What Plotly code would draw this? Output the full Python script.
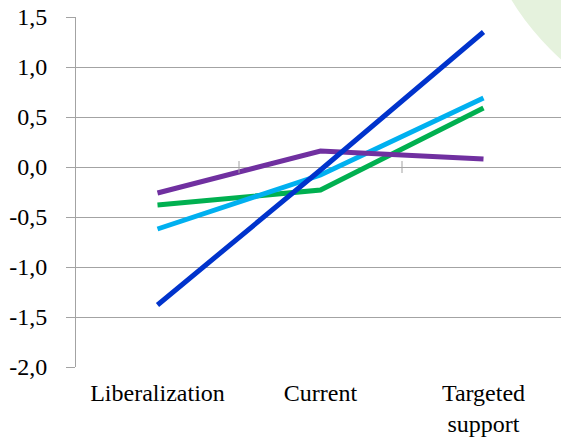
import plotly.graph_objects as go

# Scenario categories and the value of each series under each scenario
scenarios = ["Liberalization", "Current", "Targeted<br>support"]
series_blue = [-1.38, -0.03, 1.35]
series_lightblue = [-0.62, -0.08, 0.69]
series_green = [-0.38, -0.23, 0.59]
series_purple = [-0.26, 0.16, 0.08]
y_ticks = [-2.0, -1.5, -1.0, -0.5, 0.0, 0.5, 1.0, 1.5]
y_tick_labels = ["-2,0", "-1,5", "-1,0", "-0,5", "0,0", "0,5", "1,0", "1,5"]

xpos = list(range(len(scenarios)))
grid_grey = "#a3a3a3"
serif = "Liberation Serif, Times New Roman, serif"

fig = go.Figure()

for name, vals, color in [
    ("Series 2", series_green, "#00b050"),
    ("Series 3", series_lightblue, "#00b0f0"),
    ("Series 4", series_purple, "#7030a0"),
    ("Series 1", series_blue, "#0033cc"),
]:
    fig.add_trace(go.Scatter(
        x=xpos, y=vals, mode="lines", name=name,
        line=dict(color=color, width=5),
        showlegend=False, hoverinfo="skip",
    ))

# Category tick marks crossing the zero line between scenarios
for b in [0.5, 1.5]:
    fig.add_shape(type="line", xref="x", yref="y", x0=b, x1=b, y0=-0.06, y1=0.06,
                  line=dict(color=grid_grey, width=1))

# Soft green background disc in the upper right corner
fig.add_shape(type="circle", xref="paper", yref="paper", layer="below",
              x0=0.8165, x1=1.922, y0=0.683, y1=2.214,
              fillcolor="#e5f2dd", line=dict(width=0))

fig.update_layout(
    width=561, height=442,
    margin=dict(l=76, r=0, t=17, b=75, autoexpand=False),
    paper_bgcolor="white", plot_bgcolor="rgba(0,0,0,0)",
    font=dict(family=serif, color="black"),
    xaxis=dict(
        range=[-0.5, -0.5 + 485 / 163],
        tickvals=xpos, ticktext=scenarios, automargin=False,
        showgrid=False, zeroline=False, showline=False, ticks="",
        tickfont=dict(size=24, family=serif, color="black"),
        ticklabelstandoff=9,
    ),
    yaxis=dict(
        range=[-2.0, 1.5], tickvals=y_ticks, ticktext=y_tick_labels,
        automargin=False,
        showgrid=True, gridcolor=grid_grey, gridwidth=1,
        zeroline=False, showline=True, linecolor=grid_grey, linewidth=1,
        ticks="outside", ticklen=9, tickcolor=grid_grey, tickwidth=1,
        tickfont=dict(size=24, family=serif, color="black"),
        ticklabelstandoff=14,
    ),
)

fig.write_html("out.html")
